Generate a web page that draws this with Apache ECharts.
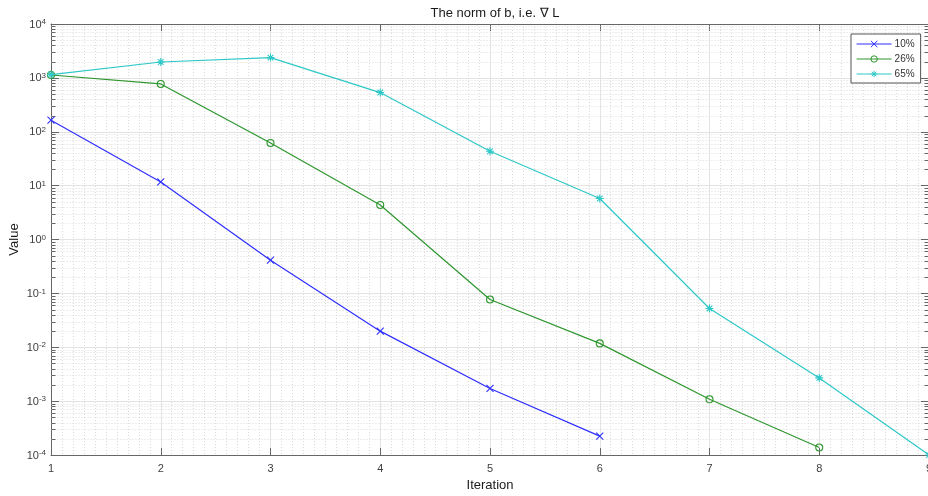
<!DOCTYPE html>
<html>
<head>
<meta charset="utf-8">
<title>The norm of b</title>
<script src="https://cdn.jsdelivr.net/npm/echarts@6/dist/echarts.min.js"></script>
<style>
  html, body { margin: 0; padding: 0; background: #ffffff; }
  #chart { width: 928px; height: 496px; }
</style>
</head>
<body>
<div id="chart"></div>
<script>
// Iteration numbers on the x axis
const iterations = [1, 2, 3, 4, 5, 6, 7, 8, 9];

// Series names shown in the legend
const seriesNames = ['10%', '26%', '65%'];

// Norm of b per iteration for each run
const values10 = [164, 11.7, 0.413, 0.0199, 0.00172, 0.000224];
const values26 = [1130, 771, 62, 4.38, 0.077, 0.0118, 0.00108, 0.000138];
const values65 = [1150, 1970, 2380, 534, 43.5, 5.76, 0.0525, 0.0027, 0.0001];

// Axis ranges and decade tick exponents
const xRange = [1, 9];
const yDecades = [-4, -3, -2, -1, 0, 1, 2, 3, 4];

const FONT = "'Liberation Sans', Arial, Helvetica, sans-serif";
const AXIS_COLOR = '#666666';
const MAJOR_GRID = '#e3e3e3';
const MINOR_GRID = '#dadada';
const COLORS = ['#2f2fff', '#2e962e', '#2ec8c8'];

// Minor log positions (2..9 within each decade) for the dotted grid and small ticks
const minorLogValues = [];
for (let e = yDecades[0]; e < yDecades[yDecades.length - 1]; e++) {
  for (let m = 2; m <= 9; m++) minorLogValues.push([xRange[0], m * Math.pow(10, e)]);
}

const pairs = (ys) => ys.map((v, i) => [iterations[i], v]);

// Stroked marker shapes
const SYM_X = 'path://M0,0L10,10M10,0L0,10';
const SYM_STAR = 'path://M5,0L5,10M0,5L10,5M1.5,1.5L8.5,8.5M8.5,1.5L1.5,8.5';

function lineSeries(name, data, color, symbol, size) {
  return {
    name: name,
    type: 'line',
    data: pairs(data),
    symbol: symbol,
    symbolSize: size,
    showAllSymbol: true,
    z: 5,
    lineStyle: { color: color, width: 1.2 },
    itemStyle: { color: 'rgba(0,0,0,0)', borderColor: color, borderWidth: 1.1 },
    emphasis: { disabled: true },
    animation: false
  };
}

const chart = echarts.init(document.getElementById('chart'), null, { renderer: 'canvas' });

const superLabel = {
  formatter: (v) => '{b|10}{s|' + Math.round(Math.log10(v)) + '}',
  rich: {
    b: { fontFamily: FONT, fontSize: 11, color: '#404040', verticalAlign: 'bottom', lineHeight: 12 },
    s: { fontFamily: FONT, fontSize: 8, color: '#404040', verticalAlign: 'top', lineHeight: 8, padding: [0, 0, 6, 0] }
  }
};

chart.setOption({
  backgroundColor: '#ffffff',
  animation: false,
  title: {
    text: 'The norm of b, i.e. \u2207 L',
    left: 490,
    top: 2,
    textAlign: 'center',
    textStyle: { fontFamily: FONT, fontSize: 13, fontWeight: 'normal', color: '#1a1a1a' }
  },
  legend: {
    data: seriesNames,
    orient: 'vertical',
    left: 851,
    top: 34,
    itemWidth: 35,
    itemHeight: 8,
    itemGap: 5,
    padding: [5, 6, 4, 5],
    backgroundColor: '#ffffff',
    borderColor: '#555555',
    borderWidth: 1,
    borderRadius: 0,
    itemStyle: { color: 'rgba(0,0,0,0)', borderWidth: 1 },
    lineStyle: { width: 1.2 },
    textStyle: { fontFamily: FONT, fontSize: 10, color: '#333333', padding: [0, 0, 0, -2] },
    selectedMode: false
  },
  grid: { left: 51, top: 24, width: 878, height: 431, containLabel: false, outerBoundsMode: 'none' },
  xAxis: [
    {
      type: 'value',
      min: xRange[0],
      max: xRange[1],
      interval: 1,
      name: 'Iteration',
      nameLocation: 'middle',
      nameGap: 24,
      nameMoveOverlap: false,
      nameTextStyle: { fontFamily: FONT, fontSize: 13, color: '#1a1a1a' },
      axisLine: { show: true, lineStyle: { color: AXIS_COLOR, width: 1 } },
      axisTick: { show: true, inside: true, length: 7, lineStyle: { color: AXIS_COLOR } },
      axisLabel: { fontFamily: FONT, fontSize: 11, color: '#404040', margin: 8 },
      splitLine: { show: true, lineStyle: { color: MAJOR_GRID, width: 1 } },
      minorTick: { show: false, splitNumber: 10 },
      minorSplitLine: { show: true, lineStyle: { color: MINOR_GRID, width: 1, type: [1, 2] } }
    },
    {
      type: 'value',
      position: 'top',
      min: xRange[0],
      max: xRange[1],
      interval: 1,
      axisLine: { show: true, lineStyle: { color: AXIS_COLOR, width: 1 } },
      axisTick: { show: true, inside: true, length: 7, lineStyle: { color: AXIS_COLOR } },
      axisLabel: { show: false },
      splitLine: { show: false }
    }
  ],
  yAxis: [
    {
      type: 'log',
      logBase: 10,
      min: Math.pow(10, yDecades[0]),
      max: Math.pow(10, yDecades[yDecades.length - 1]),
      interval: 1,
      name: 'Value',
      nameLocation: 'middle',
      nameGap: 30,
      nameMoveOverlap: false,
      nameRotate: 90,
      nameTextStyle: { fontFamily: FONT, fontSize: 13, color: '#1a1a1a' },
      axisLine: { show: true, lineStyle: { color: AXIS_COLOR, width: 1 } },
      axisTick: { show: true, inside: true, length: 8, lineStyle: { color: AXIS_COLOR } },
      axisLabel: Object.assign({ margin: 5 }, superLabel),
      splitLine: { show: true, lineStyle: { color: MAJOR_GRID, width: 1 } }
    },
    {
      type: 'log',
      logBase: 10,
      position: 'right',
      min: Math.pow(10, yDecades[0]),
      max: Math.pow(10, yDecades[yDecades.length - 1]),
      interval: 1,
      axisLine: { show: true, lineStyle: { color: AXIS_COLOR, width: 1 } },
      axisTick: { show: true, inside: true, length: 8, lineStyle: { color: AXIS_COLOR } },
      axisLabel: { show: false },
      splitLine: { show: false }
    }
  ],
  series: [
    {
      // dotted minor grid and short inward ticks at 2..9 of every decade
      type: 'custom',
      name: 'minor',
      xAxisIndex: 0,
      yAxisIndex: 0,
      z: 1,
      silent: true,
      data: minorLogValues,
      encode: { x: 0, y: 1 },
      renderItem: function (params, api) {
        const v = api.value(1);
        const a = api.coord([xRange[0], v]);
        const b = api.coord([xRange[1], v]);
        const y = Math.round(a[1]) + 0.5;
        const x0 = Math.round(a[0]) + 0.5;
        const x1 = Math.round(b[0]) - 0.5;
        return {
          type: 'group',
          children: [
            { type: 'line', shape: { x1: x0, y1: y, x2: x1, y2: y },
              style: { stroke: MINOR_GRID, lineWidth: 1, lineDash: [1, 2] } },
            { type: 'line', shape: { x1: x0, y1: y, x2: x0 + 4, y2: y },
              style: { stroke: AXIS_COLOR, lineWidth: 1 } },
            { type: 'line', shape: { x1: x1 - 4, y1: y, x2: x1, y2: y },
              style: { stroke: AXIS_COLOR, lineWidth: 1 } }
          ]
        };
      },
      animation: false
    },
    lineSeries(seriesNames[0], values10, COLORS[0], SYM_X, 7),
    lineSeries(seriesNames[1], values26, COLORS[1], 'circle', 7),
    lineSeries(seriesNames[2], values65, COLORS[2], SYM_STAR, 8)
  ]
});
</script>
</body>
</html>
